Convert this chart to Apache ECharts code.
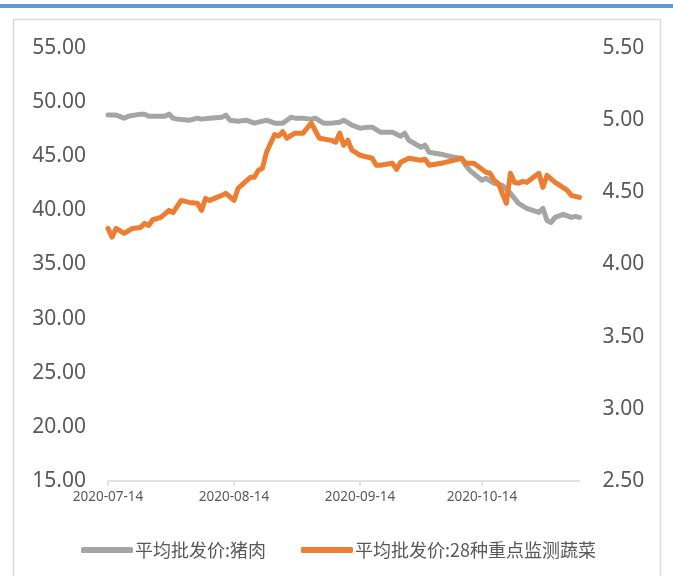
<!DOCTYPE html>
<html>
<head>
<meta charset="utf-8">
<script src="https://cdn.jsdelivr.net/npm/echarts@6/dist/echarts.min.js"></script>
<style>
	html, body { margin: 0; padding: 0; background: #fff; }
	#priceChart { width: 673px; height: 576px; }
</style>
</head>
<body>
<div id="priceChart"></div>
<script>
// 平均批发价:猪肉 (左轴, 元/公斤)
var porkDates = ['2020-07-14', '2020-07-16', '2020-07-18', '2020-07-19', '2020-07-22', '2020-07-23', '2020-07-24', '2020-07-28',
	'2020-07-29', '2020-07-30', '2020-07-31', '2020-08-03', '2020-08-05', '2020-08-06', '2020-08-08', '2020-08-11', '2020-08-12',
	'2020-08-13', '2020-08-15', '2020-08-17', '2020-08-19', '2020-08-20', '2020-08-22', '2020-08-24', '2020-08-26', '2020-08-27',
	'2020-08-28', '2020-08-29', '2020-08-31', '2020-09-02', '2020-09-03', '2020-09-05', '2020-09-07', '2020-09-09', '2020-09-10',
	'2020-09-12', '2020-09-14', '2020-09-16', '2020-09-17', '2020-09-19', '2020-09-22', '2020-09-24', '2020-09-25', '2020-09-26',
	'2020-09-29', '2020-09-30', '2020-10-01', '2020-10-04', '2020-10-07', '2020-10-09', '2020-10-10', '2020-10-11', '2020-10-14',
	'2020-10-15', '2020-10-17', '2020-10-19', '2020-10-21', '2020-10-23', '2020-10-25', '2020-10-28', '2020-10-29', '2020-10-30',
	'2020-10-31', '2020-11-01', '2020-11-03', '2020-11-05', '2020-11-06', '2020-11-07'];
var porkValues = [48.80, 48.80, 48.52, 48.70, 48.89, 48.89, 48.70, 48.70,
	48.89, 48.52, 48.43, 48.33, 48.52, 48.43, 48.52, 48.61, 48.80,
	48.33, 48.24, 48.33, 48.06, 48.15, 48.33, 48.06, 48.06, 48.33,
	48.61, 48.52, 48.52, 48.43, 48.52, 48.06, 48.06, 48.15, 48.33,
	47.87, 47.59, 47.69, 47.69, 47.22, 47.22, 46.85, 47.13, 46.48,
	45.83, 46.02, 45.37, 45.19, 44.91, 44.81, 44.17, 43.70, 42.78,
	42.96, 42.50, 42.31, 41.57, 40.65, 40.19, 39.81, 40.19, 39.07,
	38.89, 39.35, 39.63, 39.35, 39.44, 39.35];

// 平均批发价:28种重点监测蔬菜 (右轴)
var vegDates = ['2020-07-14', '2020-07-15', '2020-07-16', '2020-07-18', '2020-07-20', '2020-07-22', '2020-07-23', '2020-07-24',
	'2020-07-25', '2020-07-27', '2020-07-29', '2020-07-30', '2020-08-01', '2020-08-03', '2020-08-05', '2020-08-06', '2020-08-07',
	'2020-08-08', '2020-08-11', '2020-08-12', '2020-08-14', '2020-08-15', '2020-08-18', '2020-08-19', '2020-08-20', '2020-08-21',
	'2020-08-22', '2020-08-23', '2020-08-24', '2020-08-25', '2020-08-26', '2020-08-27', '2020-08-29', '2020-08-31', '2020-09-02',
	'2020-09-04', '2020-09-07', '2020-09-08', '2020-09-09', '2020-09-10', '2020-09-11', '2020-09-12', '2020-09-14', '2020-09-17',
	'2020-09-18', '2020-09-19', '2020-09-22', '2020-09-23', '2020-09-24', '2020-09-26', '2020-09-29', '2020-09-30', '2020-10-01',
	'2020-10-04', '2020-10-07', '2020-10-09', '2020-10-10', '2020-10-12', '2020-10-13', '2020-10-15', '2020-10-16', '2020-10-17',
	'2020-10-18', '2020-10-19', '2020-10-20', '2020-10-21', '2020-10-22', '2020-10-23', '2020-10-24', '2020-10-25', '2020-10-28',
	'2020-10-29', '2020-10-30', '2020-11-01', '2020-11-04', '2020-11-05', '2020-11-07'];
var vegValues = [4.25, 4.19, 4.25, 4.215, 4.25, 4.257, 4.285, 4.27,
	4.31, 4.326, 4.375, 4.36, 4.444, 4.43, 4.424, 4.375, 4.458,
	4.444, 4.479, 4.493, 4.444, 4.528, 4.604, 4.604, 4.653, 4.667,
	4.778, 4.84, 4.90, 4.89, 4.92, 4.875, 4.91, 4.91, 4.98,
	4.875, 4.86, 4.847, 4.91, 4.826, 4.861, 4.792, 4.757, 4.736,
	4.688, 4.688, 4.701, 4.66, 4.708, 4.736, 4.722, 4.729, 4.688,
	4.701, 4.722, 4.736, 4.701, 4.701, 4.681, 4.639, 4.632, 4.583,
	4.563, 4.493, 4.424, 4.632, 4.569, 4.563, 4.576, 4.569, 4.632,
	4.535, 4.618, 4.569, 4.514, 4.479, 4.465];

var seriesNames = ['平均批发价:猪肉', '平均批发价:28种重点监测蔬菜'];
var leftTicks = { min: 15, max: 55, interval: 5 };
var rightTicks = { min: 2.5, max: 5.5, interval: 0.5 };

// 横轴: 2020-07-14 到 2020-11-07 的每一天
function dayList(start, end) {
	var list = [];
	var d = new Date(start + 'T00:00:00Z');
	var e = new Date(end + 'T00:00:00Z');
	while (d <= e) {
		list.push(d.toISOString().slice(0, 10));
		d.setUTCDate(d.getUTCDate() + 1);
	}
	return list;
}
var categories = dayList('2020-07-14', '2020-11-07');

function pairs(dates, values) {
	return dates.map(function (d, i) { return [d, values[i]]; });
}

function isMonthTick(index, value) {
	return value.slice(8) === '14';
}

function priceChart() {
	// 基于准备好的dom，初始化echarts图表
	var myChart = echarts.init(document.getElementById('priceChart'));
	var labelColor = '#595959';
	// 指定图表的配置项和数据
	var option = {
		backgroundColor: '#fff',
		animation: false,
		graphic: [{
			type: 'rect',
			shape: { x: 0, y: 4, width: 673, height: 4 },
			style: { fill: '#5B9BD5' }
		}, {
			type: 'rect',
			shape: { x: 13.5, y: 19.5, width: 647, height: 620 },
			style: { fill: 'none', stroke: '#D9D9D9', lineWidth: 1.5 }
		}],
		legend: {
			data: seriesNames,
			left: 76,
			top: 536,
			icon: 'roundRect',
			itemWidth: 52,
			itemHeight: 6,
			itemGap: 35,
			textStyle: {
				color: labelColor,
				fontSize: 18,
				fontFamily: '"Noto Sans CJK SC", "Noto Sans", sans-serif',
				padding: [0, 0, 0, -3]
			}
		},
		grid: {
			left: 108,
			right: 93.5,
			top: 48,
			bottom: 95,
			containLabel: false
		},
		xAxis: [{
			type: 'category',
			boundaryGap: false,
			data: categories,
			axisLine: { lineStyle: { color: '#D9D9D9', width: 1.5 } },
			axisTick: {
				interval: isMonthTick,
				length: 5,
				lineStyle: { color: '#D9D9D9', width: 1.5 }
			},
			axisLabel: {
				interval: isMonthTick,
				margin: 9,
				color: labelColor,
				fontSize: 13.5,
				fontFamily: '"Noto Sans", sans-serif'
			},
			splitLine: { show: false }
		}],
		yAxis: [{
			type: 'value',
			min: leftTicks.min,
			max: leftTicks.max,
			interval: leftTicks.interval,
			axisLine: { show: false },
			axisTick: { show: false },
			splitLine: { show: false },
			axisLabel: {
				margin: 22,
				color: labelColor,
				fontSize: 21,
				fontFamily: '"Noto Sans", sans-serif',
				formatter: function (v) { return v.toFixed(2); }
			}
		}, {
			type: 'value',
			min: rightTicks.min,
			max: rightTicks.max,
			interval: rightTicks.interval,
			axisLine: { show: false },
			axisTick: { show: false },
			splitLine: { show: false },
			axisLabel: {
				margin: 23,
				color: labelColor,
				fontSize: 21,
				fontFamily: '"Noto Sans", sans-serif',
				formatter: function (v) { return v.toFixed(2); }
			}
		}],
		series: [{
			name: seriesNames[0],
			type: 'line',
			yAxisIndex: 0,
			data: pairs(porkDates, porkValues),
			showSymbol: false,
			color: '#A5A5A5',
			lineStyle: { width: 5, color: '#A5A5A5', join: 'round', cap: 'round' }
		}, {
			name: seriesNames[1],
			type: 'line',
			yAxisIndex: 1,
			data: pairs(vegDates, vegValues),
			showSymbol: false,
			color: '#ED7D31',
			lineStyle: { width: 5, color: '#ED7D31', join: 'round', cap: 'round' }
		}]
	};
	// 为echarts对象加载数据
	myChart.setOption(option);
}

priceChart();
</script>
</body>
</html>
